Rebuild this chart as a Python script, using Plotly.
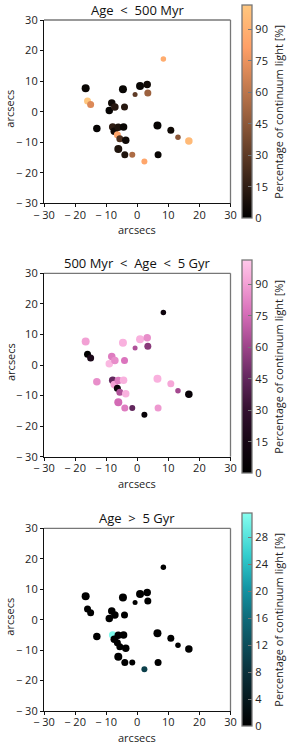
import plotly.graph_objects as go

W, H = 293, 746

# Positions of the regions (arcsec)
x_pos = [-16.6, -16.0, -15.0, -13.0, -9.0, -8.2, -7.2, -7.9, -7.4, -6.4,
         -6.1, -5.6, -6.1, -4.6, -4.1, -4.4, -3.7, -4.0, -1.6, -0.7,
         0.9, 3.2, 3.4, 2.3, 8.4, 6.5, 6.7, 10.8, 13.1, 16.6]
y_pos = [7.7, 3.5, 2.3, -5.5, 0.4, 2.8, 1.5, -5.0, -6.4, -7.6,
         -5.1, -8.9, -12.2, 7.3, 1.5, -5.0, -9.4, -14.1, -14.1, 5.6,
         8.4, 8.9, 6.1, -16.3, 17.2, -4.5, -14.1, -6.1, -8.4, -9.6]
# marker diameters (px)
sizes = [8, 7, 7, 7.5, 7.5, 7.5, 7.5, 7.5, 7.5, 7,
         7.5, 7, 8, 8, 7, 7.5, 7.5, 7, 6, 5,
         8, 7.5, 7, 6, 5.5, 8, 7, 7, 5.5, 7.5]

# Percentage of continuum light per age bin
young = [3, 101, 70, 2, 2, 5, 12, 15, 5, 85,
         10, 25, 10, 3, 12, 3, 5, 10, 55, 30,
         3, 5, 50, 85, 88, 2, 3, 5, 45, 95]
inter = [90, 0, 18, 85, 97, 80, 85, 45, 90, 8,
         80, 65, 75, 95, 78, 95, 95, 80, 45, 65,
         95, 85, 55, 5, 10, 95, 88, 92, 62, 5]
old = [0, 0, 0, 0, 0, 0, 0, 31, 0, 0,
       0, 0, 0, 0, 0, 0, 0, 0, 0, 0,
       0, 0, 0, 10, 0, 0, 0, 0, 0, 0]

titles = ["Age  <  500 Myr", "500 Myr  <  Age  <  5 Gyr", "Age  >  5 Gyr"]
cbar_title = "Percentage of continuum light [%]"
cmaxes = [101.6, 101.6, 31.6]
cticks = [[0, 15, 30, 45, 60, 75, 90], [0, 15, 30, 45, 60, 75, 90],
          [0, 4, 8, 12, 16, 20, 24, 28]]
axis_ticks = [-30, -20, -10, 0, 10, 20, 30]
axis_ticktext = ["\u2212 30", "\u2212 20", "\u2212 10", "0", "10", "20", "30"]

copper = [[0.0, "rgb(0,0,0)"], [0.8, "rgb(255,159,102)"], [1.0, "rgb(255,199,127)"]]
pinkmap = [[0.0, "rgb(0,0,0)"], [0.15, "rgb(22,6,20)"], [0.3, "rgb(52,16,48)"],
           [0.45, "rgb(100,40,95)"], [0.6, "rgb(160,70,140)"], [0.75, "rgb(215,110,185)"],
           [0.9, "rgb(245,165,215)"], [1.0, "rgb(255,200,234)"]]
cyanmap = [[0.0, "rgb(0,0,0)"], [0.25, "rgb(10,48,58)"], [0.5, "rgb(14,105,120)"],
           [0.65, "rgb(20,150,165)"], [0.8, "rgb(50,205,205)"], [1.0, "rgb(135,255,240)"]]
cmaps = [copper, pinkmap, cyanmap]
data_sets = [young, inter, old]

# plot area pixel boxes (top, bottom) and colorbar boxes
plot_x0, plot_x1 = 44, 230.5
plot_tb = [(20, 203.3), (273.3, 456.7), (528.3, 711)]
cbar_tb = [(5, 218.3), (260, 473.3), (513, 726.3)]

font = "Open Sans"
fig = go.Figure()
annotations = []
shapes = []
for i in range(3):
    xa = "x" if i == 0 else f"x{i+1}"
    ya = "y" if i == 0 else f"y{i+1}"
    t, b = plot_tb[i]
    ct, cb = cbar_tb[i]
    fig.add_trace(go.Scatter(
        x=x_pos, y=y_pos, mode="markers", xaxis=xa, yaxis=ya,
        marker=dict(size=sizes, color=data_sets[i], colorscale=cmaps[i],
                    cmin=0, cmax=cmaxes[i], line=dict(width=0), opacity=1,
                    colorbar=dict(
                        x=242 / W, xanchor="left", xpad=0, ypad=0,
                        y=1 - (ct + cb) / 2 / H, yanchor="middle",
                        len=(cb - ct) / H, lenmode="fraction",
                        thickness=10, thicknessmode="pixels",
                        outlinecolor="#777", outlinewidth=1.3,
                        ticks="inside", ticklen=4, tickcolor="#777",
                        tickvals=cticks[i],
                        tickfont=dict(size=11, color="#222", family=font),
                    )),
        showlegend=False, hoverinfo="skip",
    ))
    ax_common = dict(range=[-30, 30], tickvals=axis_ticks, ticktext=axis_ticktext,
                     showgrid=False, zeroline=False, showline=True, linecolor="#111",
                     linewidth=1.2, ticks="outside", ticklen=3, tickcolor="#111",
                     automargin=False,
                     tickfont=dict(size=11, color="#222", family=font))
    fig.update_layout(**{
        ("xaxis" if i == 0 else f"xaxis{i+1}"): dict(
            domain=[plot_x0 / W, plot_x1 / W], anchor=ya, ticklabelstandoff=-2,
            **ax_common),
        ("yaxis" if i == 0 else f"yaxis{i+1}"): dict(
            domain=[1 - b / H, 1 - t / H], anchor=xa, **ax_common),
    })
    # gray top and right spines
    shapes.append(dict(type="line", xref=f"{xa} domain", yref=f"{ya} domain",
                       x0=0, x1=1, y0=1, y1=1, line=dict(color="#777", width=1.3)))
    shapes.append(dict(type="line", xref=f"{xa} domain", yref=f"{ya} domain",
                       x0=1, x1=1, y0=0, y1=1, line=dict(color="#777", width=1.3)))
    annotations.append(dict(text=titles[i], xref="paper", yref="paper",
                            x=(plot_x0 + plot_x1) / 2 / W, y=1 - (t - 10) / H,
                            xanchor="center", yanchor="middle", showarrow=False,
                            font=dict(size=13, color="#111", family=font)))
    annotations.append(dict(text="arcsecs", xref="paper", yref="paper",
                            x=(plot_x0 + plot_x1) / 2 / W, y=1 - (b + 26.5) / H,
                            xanchor="center", yanchor="middle", showarrow=False,
                            font=dict(size=11, color="#222", family=font)))
    annotations.append(dict(text="arcsecs", xref="paper", yref="paper",
                            x=10 / W, y=1 - ((t + b) / 2 - 3) / H, textangle=-90,
                            xanchor="center", yanchor="middle", showarrow=False,
                            font=dict(size=11, color="#222", family=font)))
    annotations.append(dict(text=cbar_title, xref="paper", yref="paper",
                            x=279 / W, y=1 - (ct + cb) / 2 / H, textangle=-90,
                            xanchor="center", yanchor="middle", showarrow=False,
                            font=dict(size=11, color="#222", family=font)))

fig.update_layout(width=W, height=H, margin=dict(l=0, r=0, t=0, b=0),
                  paper_bgcolor="white", plot_bgcolor="white",
                  annotations=annotations, shapes=shapes)
fig.write_html("out.html", config={"displayModeBar": False},
               post_script="document.body.style.margin='0px';document.body.style.overflow='hidden';")
